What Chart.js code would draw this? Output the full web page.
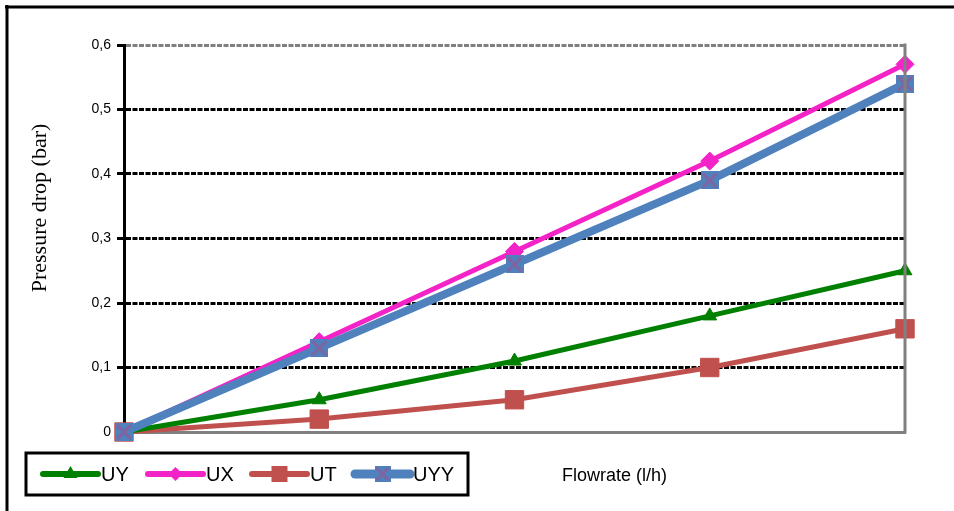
<!DOCTYPE html>
<html>
<head>
<meta charset="utf-8">
<script src="https://cdn.jsdelivr.net/npm/chart.js@4"></script>
<style>
  body { margin: 0; background: #fff; }
</style>
</head>
<body>
<canvas id="chart" width="954" height="511"></canvas>
<script>
// data
const flowrates = ['Q1', 'Q2', 'Q3', 'Q4', 'Q5'];
const uy = [0, 0.05, 0.11, 0.18, 0.25];
const ux = [0, 0.14, 0.28, 0.42, 0.57];
const ut = [0, 0.02, 0.05, 0.10, 0.16];
const uyy = [0, 0.13, 0.26, 0.39, 0.54];
const yTicks = [0, 0.1, 0.2, 0.3, 0.4, 0.5, 0.6];

// blue square with purple cross, like the Excel marker
function makeCrossMarker(size) {
    const c = document.createElement('canvas');
    c.width = size;
    c.height = size;
    const g = c.getContext('2d');
    g.fillStyle = '#4F81BD';
    g.fillRect(0, 0, size, size);
    g.strokeStyle = '#8064A2';
    g.lineWidth = 3;
    g.beginPath();
    g.moveTo(2, 2); g.lineTo(size - 2, size - 2);
    g.moveTo(size - 2, 2); g.lineTo(2, size - 2);
    g.stroke();
    return c;
}
const crossMarker = makeCrossMarker(18);

const series = [
    { label: 'UY', data: uy, color: '#008000', width: 5, style: 'triangle', radius: 8, order: 2 },
    { label: 'UX', data: ux, color: '#F423C8', width: 5, style: 'rectRot', radius: 9, order: 1 },
    { label: 'UT', data: ut, color: '#C0504D', width: 5, style: 'rect', radius: 13, order: 3 },
    { label: 'UYY', data: uyy, color: '#4F81BD', width: 8, style: crossMarker, radius: 9, order: 0 },
];

// frame, right border, axis titles and boxed legend
const decorations = {
    id: 'decorations',
    beforeDraw(chart) {
        const ctx = chart.ctx;
        ctx.save();
        ctx.fillStyle = '#fff';
        ctx.fillRect(0, 0, chart.width, chart.height);
        ctx.strokeStyle = '#000';
        ctx.lineWidth = 3;
        ctx.beginPath();
        ctx.moveTo(5, 7); ctx.lineTo(chart.width, 7);
        ctx.moveTo(7, 5); ctx.lineTo(7, chart.height);
        ctx.stroke();
        ctx.restore();
    },
    afterDatasetsDraw(chart) {
        const ctx = chart.ctx;
        const a = chart.chartArea;
        ctx.save();
        ctx.strokeStyle = '#808080';
        ctx.lineWidth = 3;
        ctx.beginPath();
        ctx.moveTo(a.right, a.top - 1.5);
        ctx.lineTo(a.right, a.bottom + 1.5);
        ctx.stroke();
        ctx.restore();
    },
    afterDraw(chart) {
        const ctx = chart.ctx;
        ctx.save();

        // y title
        ctx.fillStyle = '#000';
        ctx.font = '22px "Liberation Serif", "Times New Roman", serif';
        ctx.textAlign = 'center';
        ctx.textBaseline = 'middle';
        ctx.translate(40, 208);
        ctx.rotate(-Math.PI / 2);
        ctx.fillText('Pressure drop (bar)', 0, 0);
        ctx.setTransform(1, 0, 0, 1, 0, 0);

        // x title
        ctx.font = '18px "Liberation Sans", Arial, sans-serif';
        ctx.textAlign = 'left';
        ctx.fillText('Flowrate (l/h)', 562, 476);

        // legend box
        ctx.strokeStyle = '#000';
        ctx.lineWidth = 3;
        ctx.strokeRect(26, 453, 442, 42);

        const starts = [43, 148, 252, 355];
        const cy = 474;
        ctx.font = '20px "Liberation Sans", Arial, sans-serif';
        chart.data.datasets.forEach((ds, i) => {
            const x0 = starts[i];
            const x1 = x0 + 55;
            const mx = (x0 + x1) / 2;
            ctx.strokeStyle = ds.borderColor;
            ctx.lineWidth = ds.borderWidth + 1;
            ctx.lineCap = 'round';
            ctx.beginPath();
            ctx.moveTo(x0, cy);
            ctx.lineTo(x1, cy);
            ctx.stroke();
            ctx.fillStyle = ds.borderColor;
            const st = ds.pointStyle;
            ctx.beginPath();
            if (st === 'triangle') {
                ctx.moveTo(mx, cy - 8);
                ctx.lineTo(mx + 7, cy + 4);
                ctx.lineTo(mx - 7, cy + 4);
                ctx.closePath();
                ctx.fill();
            } else if (st === 'rectRot') {
                ctx.moveTo(mx, cy - 7);
                ctx.lineTo(mx + 7, cy);
                ctx.lineTo(mx, cy + 7);
                ctx.lineTo(mx - 7, cy);
                ctx.closePath();
                ctx.fill();
            } else if (st === 'rect') {
                ctx.fillRect(mx - 8, cy - 8, 16, 16);
            } else {
                ctx.drawImage(st, mx - 8, cy - 8, 16, 16);
            }
            ctx.fillStyle = '#000';
            ctx.textAlign = 'left';
            ctx.fillText(ds.label, x1 + 3, cy + 1);
        });
        ctx.restore();
    }
};

new Chart(document.getElementById('chart').getContext('2d'), {
    type: 'line',
    data: {
        labels: flowrates,
        datasets: series.map(s => ({
            label: s.label,
            data: s.data,
            borderColor: s.color,
            backgroundColor: s.color,
            borderWidth: s.width,
            pointStyle: s.style,
            pointRadius: s.radius,
            pointHoverRadius: s.radius,
            pointBorderWidth: 1,
            tension: 0,
            clip: false,
            order: s.order,
        }))
    },
    options: {
        responsive: false,
        animation: false,
        events: [],
        layout: { padding: { left: 0, top: 45, right: 49, bottom: 79 } },
        plugins: {
            legend: { display: false },
            tooltip: { enabled: false },
        },
        scales: {
            x: {
                offset: false,
                ticks: { display: false },
                grid: { display: false },
                border: { display: true, color: '#808080', width: 3 },
                afterFit: scale => { scale.height = 0; },
            },
            y: {
                min: 0,
                max: 0.6,
                afterBuildTicks: scale => { scale.ticks = yTicks.map(v => ({ value: v })); },
                ticks: {
                    color: '#000',
                    padding: 6,
                    font: { family: '"Liberation Sans", Arial, sans-serif', size: 14 },
                    callback: v => v === 0 ? '0' : v.toFixed(1).replace('.', ','),
                },
                grid: {
                    color: c => (c.tick && (c.tick.value === 0 || c.tick.value === 0.6)) ? '#808080' : '#000',
                    lineWidth: 3,
                    tickColor: '#000',
                    tickLength: 7,
                    tickWidth: 3,
                },
                border: { display: true, color: '#000', width: 3, dash: [5, 1.5] },
                afterFit: scale => { scale.width = 124; },
            }
        }
    },
    plugins: [decorations]
});
</script>
</body>
</html>
